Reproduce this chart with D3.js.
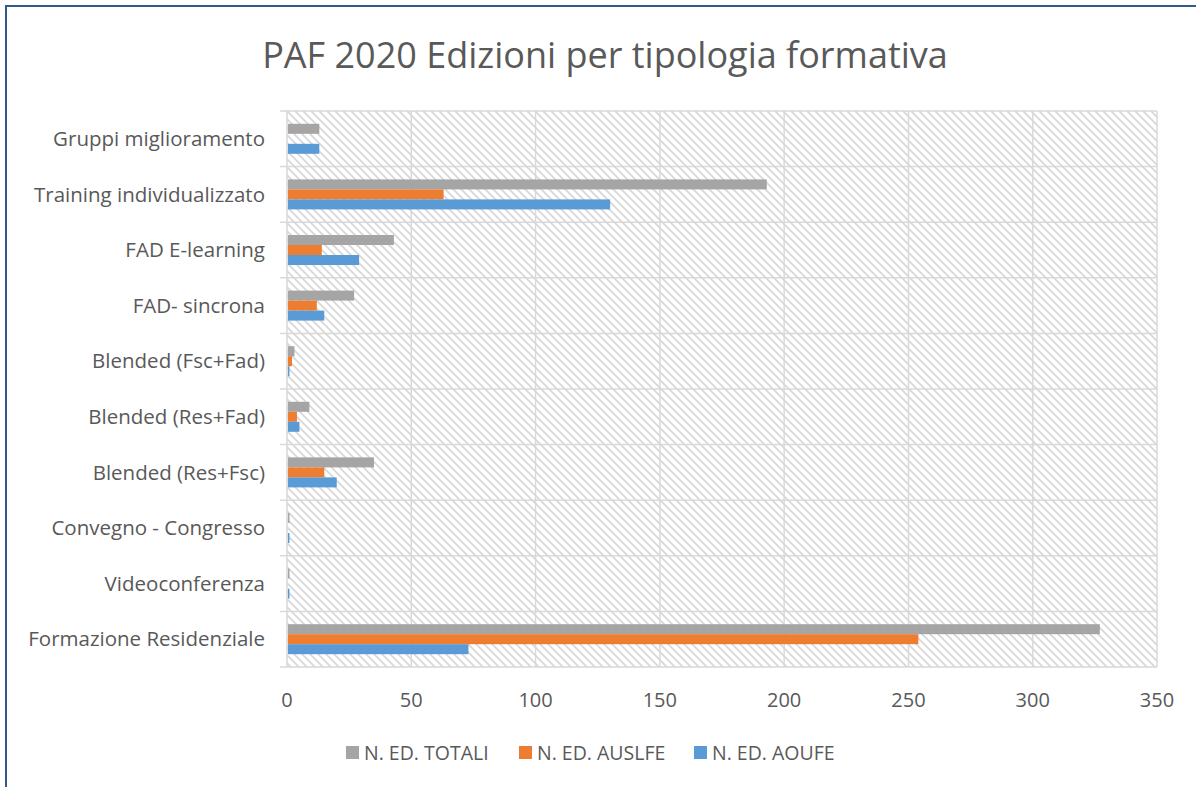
<!DOCTYPE html>
<html>
<head>
<meta charset="utf-8">
<script src="https://cdn.jsdelivr.net/npm/d3@7"></script>
<style>
  body { margin: 0; background: white; }
  text { font-family: "Open Sans", sans-serif; fill: #595959; }
</style>
</head>
<body>
<script>
// categories top to bottom
var categories = ["Gruppi miglioramento", "Training individualizzato", "FAD E-learning",
    "FAD- sincrona", "Blended (Fsc+Fad)", "Blended (Res+Fad)", "Blended (Res+Fsc)",
    "Convegno - Congresso", "Videoconferenza", "Formazione Residenziale"]
var seriesNames = ["N. ED. TOTALI", "N. ED. AUSLFE", "N. ED. AOUFE"]
var totali = [13, 193, 43, 27, 3, 9, 35, 1, 1, 327]
var auslfe = [0, 63, 14, 12, 2, 4, 15, 0, 0, 254]
var aoufe = [13, 130, 29, 15, 1, 5, 20, 1, 1, 73]
var colours = ["#a5a5a5", "#ed7d31", "#5b9bd5"]
var xTicks = [0, 50, 100, 150, 200, 250, 300, 350]

var width = 1196, height = 787
var margin = {top: 111, right: 39, bottom: 120, left: 287}

var svg = d3.select("body").append("svg")
    .attr("width", width)
    .attr("height", height)

// outer frame (only top and left visible)
svg.append("line").attr("x1", 5).attr("x2", width).attr("y1", 6).attr("y2", 6)
    .attr("stroke", "#2f5b8c").attr("stroke-width", 2)
svg.append("line").attr("x1", 6).attr("x2", 6).attr("y1", 5).attr("y2", height)
    .attr("stroke", "#2f5b8c").attr("stroke-width", 2)

// hatch pattern for plot area
var defs = svg.append("defs")
var pat = defs.append("pattern")
    .attr("id", "hatch")
    .attr("patternUnits", "userSpaceOnUse")
    .attr("width", 8).attr("height", 8)
pat.append("rect").attr("width", 8).attr("height", 8).attr("fill", "white")
pat.append("path")
    .attr("d", "M-2,-2 L10,10 M-2,6 L2,10 M6,-2 L10,2")
    .attr("stroke", "#d6d6d6").attr("stroke-width", 1.6)

var x = d3.scaleLinear()
    .domain([0, 350])
    .range([margin.left, width - margin.right])
var y = d3.scaleBand()
    .domain(categories)
    .range([margin.top, height - margin.bottom])
var inner = d3.scaleBand()
    .domain(seriesNames)
    .range([0, 30])

svg.append("rect")
    .attr("x", x(0)).attr("y", y.range()[0])
    .attr("width", x(350) - x(0))
    .attr("height", y.range()[1] - y.range()[0])
    .attr("fill", "url(#hatch)")

// vertical grid
svg.append("g").selectAll("line")
    .data(xTicks)
    .enter().append("line")
    .attr("x1", function(d) { return x(d) }).attr("x2", function(d) { return x(d) })
    .attr("y1", y.range()[0]).attr("y2", y.range()[1])
    .attr("stroke", "#d9d9d9").attr("stroke-width", 1.5)

// horizontal category separators
var seps = categories.map(function(c) { return y(c) })
seps.push(y.range()[1])
svg.append("g").selectAll("line")
    .data(seps)
    .enter().append("line")
    .attr("x1", x(0) - 7).attr("x2", x(350))
    .attr("y1", function(d) { return d }).attr("y2", function(d) { return d })
    .attr("stroke", "#d9d9d9").attr("stroke-width", 1.5)

// bars
var rows = categories.map(function(c, i) {
    return {cat: c, vals: [totali[i], auslfe[i], aoufe[i]]}
})
var off = (y.bandwidth() - 30) / 2
var groups = svg.append("g").selectAll("g")
    .data(rows)
    .enter().append("g")
    .attr("transform", function(d) { return "translate(0," + (y(d.cat) + off) + ")" })
groups.selectAll("rect")
    .data(function(d) { return d.vals.map(function(v, j) { return {s: seriesNames[j], v: v, j: j} }) })
    .enter().append("rect")
    .attr("x", x(0) + 1)
    .attr("y", function(d) { return inner(d.s) })
    .attr("width", function(d) { return Math.max(0, x(d.v) - x(0) - 1) })
    .attr("height", inner.bandwidth())
    .attr("fill", function(d) { return colours[d.j] })

// category labels
svg.append("g").selectAll("text")
    .data(categories)
    .enter().append("text")
    .attr("x", 265)
    .attr("y", function(d) { return y(d) + y.bandwidth() / 2 })
    .attr("dy", "0.35em")
    .attr("text-anchor", "end")
    .style("font-size", "20.5px")
    .text(function(d) { return d })

// x tick labels
svg.append("g").selectAll("text")
    .data(xTicks)
    .enter().append("text")
    .attr("x", function(d) { return x(d) })
    .attr("y", 700)
    .attr("dy", "0.35em")
    .attr("text-anchor", "middle")
    .style("font-size", "20px")
    .text(function(d) { return d })

// title
svg.append("text")
    .attr("x", 605).attr("y", 55)
    .attr("dy", "0.35em")
    .attr("text-anchor", "middle")
    .style("font-size", "36px")
    .text("PAF 2020 Edizioni per tipologia formativa")

// legend
var legendX = [346, 519, 694]
var legend = svg.append("g").selectAll("g")
    .data(seriesNames)
    .enter().append("g")
    .attr("transform", function(d, i) { return "translate(" + legendX[i] + ",746)" })
legend.append("rect")
    .attr("width", 13).attr("height", 13)
    .attr("fill", function(d, i) { return colours[i] })
legend.append("text")
    .attr("x", 18).attr("y", 7)
    .attr("dy", "0.35em")
    .style("font-size", "19.5px")
    .text(function(d) { return d })
</script>
</body>
</html>
